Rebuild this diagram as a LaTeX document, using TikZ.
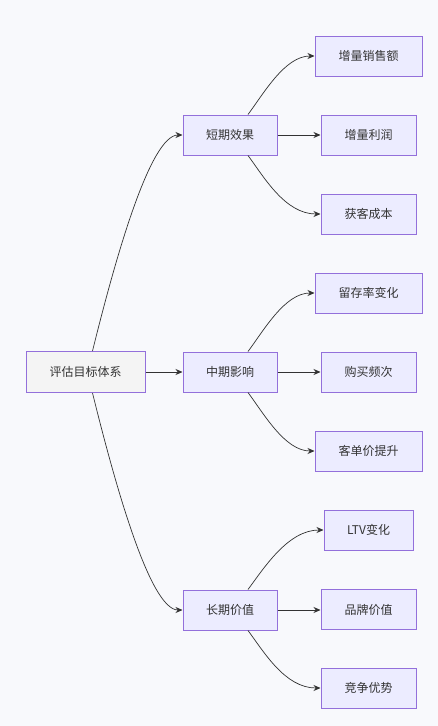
\documentclass[tikz,border=0pt]{standalone}
\usepackage{fontspec}
\setmainfont{Noto Sans CJK SC}
\usetikzlibrary{arrows.meta,calc}
\definecolor{bg}{RGB}{248,249,252}
\definecolor{nodefill}{RGB}{236,236,255}
\definecolor{nodeborder}{RGB}{147,112,219}
\definecolor{rootfill}{RGB}{244,244,244}
\definecolor{txt}{RGB}{51,51,51}
\definecolor{edge}{RGB}{51,51,51}
\tikzset{
  box/.style={draw=nodeborder, fill=nodefill, line width=1pt, minimum height=40pt, inner sep=0pt,
    text=txt, font=\fontsize{12}{14}\selectfont},
  rootbox/.style={box, fill=rootfill, minimum height=41pt},
  conn/.style={draw=edge, line width=0.7pt, -{Stealth[length=7pt,width=6pt]}},
}
\begin{document}
\begin{tikzpicture}[x=1pt,y=-1pt]
\fill[bg] (0,0) rectangle (438,726);
\useasboundingbox (0,0) rectangle (438,726);

\node[rootbox, minimum width=119pt] (root) at (85.5,372) {评估目标体系};

\node[box, minimum width=94pt] (s) at (230,135) {短期效果};
\node[box, minimum width=94pt] (m) at (230,372) {中期影响};
\node[box, minimum width=94pt] (l) at (230,610) {长期价值};

\node[box, minimum width=107pt] (s1) at (368.5,56) {增量销售额};
\node[box, minimum width=95pt] (s2) at (368.5,135) {增量利润};
\node[box, minimum width=95pt] (s3) at (368.5,214) {获客成本};

\node[box, minimum width=107pt] (m1) at (368.5,293) {留存率变化};
\node[box, minimum width=95pt] (m2) at (368.5,372) {购买频次};
\node[box, minimum width=107pt] (m3) at (368.5,451) {客单价提升};

\node[box, minimum width=89pt] (l1) at (368.5,530) {LTV变化};
\node[box, minimum width=95pt] (l2) at (368.5,609.5) {品牌价值};
\node[box, minimum width=95pt] (l3) at (368.5,688) {竞争优势};

% root edges
\draw[conn] ($(root.north)+(7,0)$) .. controls (115,260) and (150,135) .. (s.west);
\draw[conn] (root.east) -- (m.west);
\draw[conn] ($(root.south)+(7,0)$) .. controls (115,484) and (150,610) .. (l.west);

% short-term
\draw[conn] ($(s.north)+(18,0)$) .. controls (264,93) and (285,56) .. (s1.west);
\draw[conn] (s.east) -- (s2.west);
\draw[conn] ($(s.south)+(18,0)$) .. controls (264,177) and (285,214) .. (s3.west);

% mid-term
\draw[conn] ($(m.north)+(18,0)$) .. controls (264,330) and (285,293) .. (m1.west);
\draw[conn] (m.east) -- (m2.west);
\draw[conn] ($(m.south)+(18,0)$) .. controls (264,414) and (285,451) .. (m3.west);

% long-term
\draw[conn] ($(l.north)+(18,0)$) .. controls (264,568) and (288,530) .. (l1.west);
\draw[conn] (l.east) -- (l.east -| l2.west);
\draw[conn] ($(l.south)+(18,0)$) .. controls (264,652) and (285,688) .. (l3.west);
\end{tikzpicture}
\end{document}
